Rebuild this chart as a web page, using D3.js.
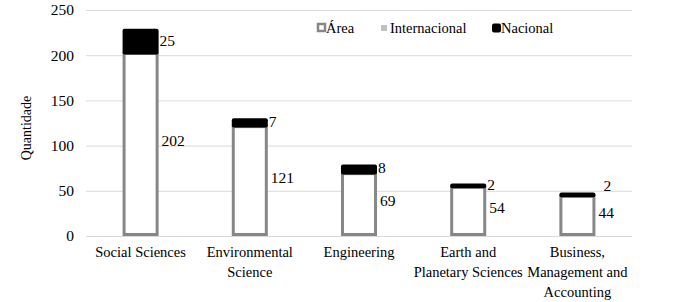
<!DOCTYPE html>
<html>
<head>
<meta charset="utf-8">
<script src="https://cdn.jsdelivr.net/npm/d3@7/dist/d3.min.js"></script>
<style>
  body { margin: 0; background: #fff; }
</style>
</head>
<body>
<div class="chart"></div>
<script>
// Chart data
const categories = ["Social Sciences", "Environmental\nScience", "Engineering", "Earth and\nPlanetary Sciences", "Business,\nManagement and\nAccounting"];
const area = [202, 121, 69, 54, 44];
const internacional = [0, 0, 0, 0, 0];
const nacional = [25, 7, 8, 2, 2];
const seriesNames = ["Área", "Internacional", "Nacional"];
const yTicks = [0, 50, 100, 150, 200, 250];

const FONT = "Liberation Serif";

// Dimensions
const W = 679, H = 302;
const margin = { top: 10, right: 47, bottom: 66, left: 86 };
const width = W - margin.left - margin.right;
const height = H - margin.top - margin.bottom;

const svg = d3.select(".chart")
  .append("svg")
  .attr("width", W)
  .attr("height", H);

const g = svg.append("g")
  .attr("transform", `translate(${margin.left},${margin.top})`);

// Scales
const x = d3.scaleBand()
  .domain(categories)
  .range([0, width])
  .paddingInner(0.67)
  .paddingOuter(0.335);

const y = d3.scaleLinear()
  .domain([0, 250])
  .range([height, 0]);

// Gridlines
g.append("g")
  .selectAll("line")
  .data(yTicks)
  .join("line")
  .attr("x1", 0)
  .attr("x2", width)
  .attr("y1", d => y(d) + 0.5)
  .attr("y2", d => y(d) + 0.5)
  .attr("stroke", "#d9d9d9")
  .attr("stroke-width", 1);

// Y axis labels
g.append("g")
  .selectAll("text")
  .data(yTicks)
  .join("text")
  .attr("x", -12)
  .attr("y", d => y(d))
  .attr("dy", "0.35em")
  .attr("text-anchor", "end")
  .attr("font-family", FONT)
  .attr("font-size", 15.5)
  .text(d => d);

// Y axis title
svg.append("text")
  .attr("transform", `translate(31,${margin.top + height / 2 + 5}) rotate(-90)`)
  .attr("text-anchor", "middle")
  .attr("font-family", FONT)
  .attr("font-size", 14)
  .text("Quantidade");

// Stack the series
const rows = categories.map((c, i) => ({ cat: c, "Área": area[i], "Internacional": internacional[i], "Nacional": nacional[i] }));
const stacked = d3.stack().keys(seriesNames)(rows);

const bw = x.bandwidth();

// Área segments: white with grey outline
g.append("g")
  .selectAll("rect")
  .data(stacked[0])
  .join("rect")
  .attr("x", d => x(d.data.cat) + 1.5)
  .attr("y", d => y(d[1]))
  .attr("width", bw - 3)
  .attr("height", d => y(d[0]) - y(d[1]) - 1.5)
  .attr("fill", "#fff")
  .attr("stroke", "#878787")
  .attr("stroke-width", 3);

// Internacional segments (light grey)
g.append("g")
  .selectAll("rect")
  .data(stacked[1].filter(d => d[1] > d[0]))
  .join("rect")
  .attr("x", d => x(d.data.cat))
  .attr("y", d => y(d[1]))
  .attr("width", bw)
  .attr("height", d => y(d[0]) - y(d[1]))
  .attr("fill", "#bfbfbf");

// Nacional segments (black, outlined like Excel)
g.append("g")
  .selectAll("rect")
  .data(stacked[2])
  .join("rect")
  .attr("x", d => x(d.data.cat))
  .attr("y", d => y(d[1]) - 2)
  .attr("width", bw)
  .attr("height", d => y(d[0]) - y(d[1]) + 3)
  .attr("rx", 2)
  .attr("fill", "#000");

// Value labels for Área
g.append("g")
  .selectAll("text")
  .data(stacked[0])
  .join("text")
  .attr("x", d => x(d.data.cat) + bw + 3)
  .attr("y", d => y((d[0] + d[1]) / 2) - 4)
  .attr("dy", "0.35em")
  .attr("font-family", FONT)
  .attr("font-size", 15.5)
  .text(d => d[1] - d[0]);

// Value labels for Nacional; nudge up when too close to the Área label
g.append("g")
  .selectAll("text")
  .data(stacked[2])
  .join("text")
  .attr("x", d => {
    const gap = Math.abs(y((d[0] + d[1]) / 2) - y(d[0] / 2));
    return x(d.data.cat) + bw + (gap < 23 ? 8 : 1);
  })
  .attr("y", d => {
    const mid = y((d[0] + d[1]) / 2);
    const gap = Math.abs(mid - y(d[0] / 2));
    return gap < 23 ? mid - 10 : mid - 2;
  })
  .attr("dy", "0.35em")
  .attr("font-family", FONT)
  .attr("font-size", 15.5)
  .text(d => d[1] - d[0]);

// X axis category labels
const xl = g.append("g")
  .selectAll("text")
  .data(categories)
  .join("text")
  .attr("x", d => x(d) + bw / 2)
  .attr("y", height + 21)
  .attr("text-anchor", "middle")
  .attr("font-family", FONT)
  .attr("font-size", 14.5);

xl.selectAll("tspan")
  .data(d => d.split("\n").map(line => ({ line, cx: x(d) + bw / 2 })))
  .join("tspan")
  .attr("x", d => d.cx)
  .attr("dy", (d, i) => i === 0 ? 0 : 20)
  .text(d => d.line);

// Legend
const legendX = [317, 381, 492];
const legend = svg.append("g");
seriesNames.forEach((name, i) => {
  const lg = legend.append("g").attr("transform", `translate(${legendX[i]},28)`);
  if (name === "Área") {
    lg.append("rect").attr("x", 1).attr("y", -4).attr("width", 7).attr("height", 7)
      .attr("fill", "#fff").attr("stroke", "#878787").attr("stroke-width", 2.5);
  } else if (name === "Internacional") {
    lg.append("rect").attr("x", 0).attr("y", -3).attr("width", 6).attr("height", 6)
      .attr("fill", "#bfbfbf");
  } else {
    lg.append("rect").attr("x", 0).attr("y", -4.5).attr("width", 9).attr("height", 9)
      .attr("rx", 2).attr("fill", "#000");
  }
  lg.append("text")
    .attr("x", 9)
    .attr("y", 0)
    .attr("dy", "0.35em")
    .attr("font-family", FONT)
    .attr("font-size", 14.5)
    .text(name);
});
</script>
</body>
</html>
